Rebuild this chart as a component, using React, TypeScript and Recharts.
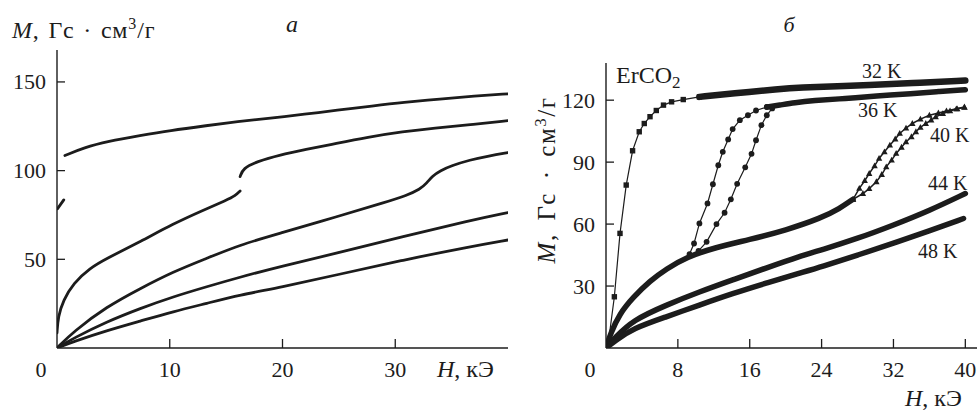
import React from 'react';
import { LineChart, Line, XAxis, YAxis } from 'recharts';

const INK = '#1c1c1c';
const FONT = '"Liberation Serif", "Times New Roman", serif';

// ---- panel a: M(H) curves, H in kOe, M in G·cm3/g
const topH = [0.7, 2.4, 4.5, 7.4, 10, 13.3, 16, 18.9, 22, 24.8, 28, 30.7, 34, 37, 40];
const topM = [108.5, 113, 116.5, 119.8, 122.6, 125.4, 127.6, 129.6, 131.8, 134, 136.5, 138.5, 140.4, 142, 143.3];

const stubH = [0.05, 0.6];
const stubM = [78.5, 83.5];

const jumpLowH = [0, 0.1, 0.56, 1.45, 2.9, 4.4, 7.4, 10.3, 12.9, 15.1, 15.8, 16.24];
const jumpLowM = [8.5, 17.7, 27, 36.5, 45, 50.5, 60, 70, 77.5, 83.5, 85.8, 88.5];
const jumpHighH = [16.24, 16.5, 17.7, 19.8, 22, 24.8, 27.5, 30.7, 33.5, 36.6, 40];
const jumpHighM = [96.6, 101.3, 105, 108.9, 111.8, 115.4, 118.8, 122, 124, 125.8, 128.2];

const stepH = [0, 1.45, 4.4, 7.4, 10.3, 13.3, 16.2, 19.8, 24.8, 29.3, 31, 32.2, 32.8, 33.3, 34, 35, 36.6, 38.3, 40];
const stepM = [0, 9.2, 23.3, 33.6, 43, 50.6, 58.1, 64.7, 74, 82.5, 86, 89.5, 93, 97, 100, 102.8, 106, 108.3, 110.2];

const lowH = [0, 1.45, 4.4, 7.4, 10.3, 13.3, 16.2, 19.8, 24.8, 30.7, 36.6, 40];
const midM = [0, 5.5, 14.8, 22.4, 28.9, 34.6, 39.9, 46, 53.4, 62.8, 71.8, 76.3];
const botM = [0, 3.6, 9.8, 15.2, 20.5, 25.2, 29.9, 34.2, 41.2, 49.6, 57.1, 60.9];

// ---- panel б: ErCo2 isotherms
const k32SparseH = [0.2, 0.93, 1.56, 2.25, 2.96, 3.7, 4.26, 4.9, 5.6, 6.4, 7.3, 8.6, 10.4];
const k32SparseM = [0.6, 24.8, 55.5, 78.9, 95.5, 104.7, 108.7, 112, 115, 117.6, 119.2, 120.3, 121.6];
const k32DenseH = [10.4, 14.1, 19.3, 21.6, 26, 29, 34, 40];
const k32DenseM = [121.6, 123.2, 125.4, 126.1, 126.8, 127.2, 128.3, 129.5];

const k36aH = [9.3, 9.8, 10.4, 11.3, 11.9, 12.5, 13, 13.6, 14.1, 14.9, 15.8, 16.7, 17.9];
const k36aM = [45.5, 50.6, 60.3, 70, 79.3, 88.5, 95, 101, 106, 110.3, 112.7, 115, 116.7];
const k36bH = [10.3, 11.2, 12.3, 13.2, 13.9, 14.6, 15.5, 16.2, 16.7, 17.3, 17.9, 18.5];
const k36bM = [47, 51.4, 60, 65.5, 72, 79.5, 87.5, 94, 100.6, 107.9, 112.7, 116];
const k36DenseH = [17.9, 19.3, 21, 23, 26.7, 30, 34.1, 37, 40];
const k36DenseM = [116.7, 117.6, 118.8, 119.8, 120.8, 122, 123.2, 124.2, 125.1];

const baseH = [0, 0.5, 1.5, 3, 4.9, 6.7, 9, 12, 16, 20, 24, 26, 27.5];
const baseM = [0, 7, 16.5, 24.5, 32.5, 38.3, 44, 48.5, 52.5, 57, 63, 67.5, 72];

const k40aH = [27.5, 28.2, 28.8, 29.3, 29.9, 30.4, 31, 31.6, 32.2, 32.7, 33.4, 34.1, 35, 36, 37, 37.9, 39, 39.9];
const k40aM = [72, 77.3, 81, 84.5, 88.2, 91.8, 95, 98.2, 101.2, 103.9, 106.5, 108.7, 110.8, 112.7, 113.8, 114.8, 115.8, 116.7];
const k40bH = [27.5, 28.6, 29.3, 30.1, 30.7, 31.2, 31.8, 32.3, 32.9, 33.4, 34, 34.5, 35, 35.6, 36.2, 36.7, 37.5, 38.3, 39.1, 39.9];
const k40bM = [72, 74.8, 77.2, 80.5, 84, 87.7, 91, 94.2, 97.2, 99.8, 102.3, 104.7, 106.8, 108.7, 110.4, 111.9, 113.5, 114.8, 115.8, 116.5];

const k44H = [0, 1, 3, 6.7, 10.4, 14.1, 17.8, 21.6, 24, 28, 32, 36, 40];
const k44M = [0, 5, 13.5, 20.8, 27.2, 33, 38.7, 44.5, 47.5, 53, 59.5, 66.5, 74.8];
const k48H = [0, 1, 3, 6.7, 10.4, 14.1, 17.8, 21.6, 24, 28, 32, 36, 39.8];
const k48M = [0, 3.5, 9.5, 15.1, 20.8, 26.4, 31.4, 36.3, 39.3, 45, 50.7, 56.7, 62.7];

const leftXTicks = [0, 10, 20, 30];
const leftYTicks = [50, 100, 150];
const rightXTicks = [0, 8, 16, 24, 32, 40];
const rightYTicks = [30, 60, 90, 120];

const zip = (h: number[], m: number[]) => h.map((v, i) => ({ h: v, m: m[i] }));

const BottomTick = ({ x, y, payload, size }: any) => {
  const v = payload.value;
  if (v === 0) {
    return (
      <text x={x - 16} y={y + 29} textAnchor="middle" fontSize={size} fontFamily={FONT} fill={INK}>
        0
      </text>
    );
  }
  return (
    <g>
      <line x1={x} x2={x} y1={y} y2={y - 9} stroke={INK} strokeWidth={1.3} />
      <text x={x} y={y + 29} textAnchor="middle" fontSize={size} fontFamily={FONT} fill={INK}>
        {v}
      </text>
    </g>
  );
};

const LeftTick = ({ x, y, payload, size }: any) => (
  <g>
    <line x1={x} x2={x + 8} y1={y} y2={y} stroke={INK} strokeWidth={1.3} />
    <text x={x - 11} y={y + size * 0.34} textAnchor="end" fontSize={size} fontFamily={FONT} fill={INK}>
      {payload.value}
    </text>
  </g>
);

const square = (p: any) => (
  <rect key={`sq${p.index}`} x={p.cx - 2.7} y={p.cy - 2.7} width={5.4} height={5.4} fill={INK} />
);
const circle = (p: any) => <circle key={`ci${p.index}`} cx={p.cx} cy={p.cy} r={2.9} fill={INK} />;
const triangle = (p: any) => (
  <path
    key={`tr${p.index}`}
    d={`M${p.cx},${p.cy - 3.4}L${p.cx + 3.2},${p.cy + 2.4}L${p.cx - 3.2},${p.cy + 2.4}Z`}
    fill={INK}
  />
);

const axisLine = { stroke: INK, strokeWidth: 1.4 };

export default function App() {
  const smooth = (data: any[], key: string, w = 2.8) => (
    <Line
      key={key}
      data={data}
      dataKey="m"
      type="basis"
      stroke={INK}
      strokeWidth={w}
      strokeLinecap="round"
      dot={false}
      activeDot={false}
      isAnimationActive={false}
    />
  );
  const marked = (data: any[], key: string, dot: any, w = 1.2) => (
    <Line
      key={key}
      data={data}
      dataKey="m"
      type="linear"
      stroke={INK}
      strokeWidth={w}
      dot={dot}
      activeDot={false}
      isAnimationActive={false}
    />
  );

  return (
    <div style={{ position: 'absolute', left: 0, top: 0, width: 978, height: 413, background: '#fff' }}>
      <div style={{ position: 'absolute', left: 0, top: 0 }}>
        <LineChart width={520} height={400} margin={{ top: 50, right: 12, bottom: 12, left: 7 }}>
          <XAxis
            type="number"
            dataKey="h"
            domain={[0, 40]}
            ticks={leftXTicks}
            interval={0}
            height={40}
            tickSize={0}
            tickMargin={0}
            tickLine={false}
            axisLine={axisLine}
            tick={(p: any) => <BottomTick {...p} size={22} />}
            allowDataOverflow
          />
          <YAxis
            type="number"
            domain={[0, 168]}
            ticks={leftYTicks}
            interval={0}
            width={50}
            tickSize={0}
            tickMargin={0}
            tickLine={false}
            axisLine={axisLine}
            tick={(p: any) => <LeftTick {...p} size={22} />}
            allowDataOverflow
          />
          {smooth(zip(topH, topM), 'top')}
          {smooth(zip(stubH, stubM), 'stub')}
          {smooth(zip(jumpLowH, jumpLowM), 'jl')}
          {smooth(zip(jumpHighH, jumpHighM), 'jh')}
          {smooth(zip(stepH, stepM), 'step')}
          {smooth(zip(lowH, midM), 'mid')}
          {smooth(zip(lowH, botM), 'bot')}
        </LineChart>
      </div>

      <div style={{ position: 'absolute', left: 500, top: 0 }}>
        <LineChart width={478} height={413} margin={{ top: 63, right: 1, bottom: 25, left: 46 }}>
          <XAxis
            type="number"
            dataKey="h"
            domain={[0, 41.3]}
            ticks={rightXTicks}
            interval={0}
            height={40}
            tickSize={0}
            tickMargin={0}
            tickLine={false}
            axisLine={axisLine}
            tick={(p: any) => <BottomTick {...p} size={22} />}
            allowDataOverflow
          />
          <YAxis
            type="number"
            domain={[0, 138]}
            ticks={rightYTicks}
            interval={0}
            width={60}
            tickSize={0}
            tickMargin={0}
            tickLine={false}
            axisLine={axisLine}
            tick={(p: any) => <LeftTick {...p} size={22} />}
            allowDataOverflow
          />
          {smooth(zip(baseH, baseM), 'base', 5.5)}
          {smooth(zip(k44H, k44M), 'k44', 5.5)}
          {smooth(zip(k48H, k48M), 'k48', 5.5)}
          {smooth(zip(k32DenseH, k32DenseM), 'k32d', 6.5)}
          {smooth(zip(k36DenseH, k36DenseM), 'k36d', 5.5)}
          {marked(zip(k32SparseH, k32SparseM), 'k32s', square)}
          {marked(zip(k36aH, k36aM), 'k36a', circle)}
          {marked(zip(k36bH, k36bM), 'k36b', circle)}
          {marked(zip(k40aH, k40aM), 'k40a', triangle, 1.5)}
          {marked(zip(k40bH, k40bM), 'k40b', triangle, 1.5)}
        </LineChart>
      </div>

      <svg
        width={978}
        height={413}
        style={{ position: 'absolute', left: 0, top: 0, pointerEvents: 'none' }}
        fontFamily={FONT}
        fill={INK}
      >
        <text x={12} y={38} fontSize={24} letterSpacing={0.8} wordSpacing={2}>
          <tspan fontStyle="italic">M</tspan>, Гс · см<tspan dy={-9} fontSize={16}>3</tspan>
          <tspan dy={9}>/г</tspan>
        </text>
        <text x={292} y={32} fontSize={24} fontStyle="italic" textAnchor="middle">а</text>
        <text x={437} y={377} fontSize={24}>
          <tspan fontStyle="italic">H</tspan>, кЭ
        </text>

        <text x={789} y={32} fontSize={22} fontStyle="italic" textAnchor="middle">б</text>
        <text x={616} y={83} fontSize={24}>
          ErCO<tspan dy={5} fontSize={17}>2</tspan>
        </text>
        <text
          transform="translate(555,180) rotate(-90)"
          textAnchor="middle"
          fontSize={25}
          letterSpacing={1.5}
          wordSpacing={5}
        >
          <tspan fontStyle="italic">M</tspan>, Гс · см<tspan dy={-9} fontSize={17}>3</tspan>
          <tspan dy={9}>/г</tspan>
        </text>
        <text x={905} y={406} fontSize={24}>
          <tspan fontStyle="italic">H</tspan>, кЭ
        </text>
        <text x={862} y={78} fontSize={20}>32 K</text>
        <text x={858} y={117} fontSize={20}>36 K</text>
        <text x={930} y={142} fontSize={20}>40 K</text>
        <text x={928} y={190} fontSize={20}>44 K</text>
        <text x={918} y={258} fontSize={20}>48 K</text>
      </svg>
    </div>
  );
}
